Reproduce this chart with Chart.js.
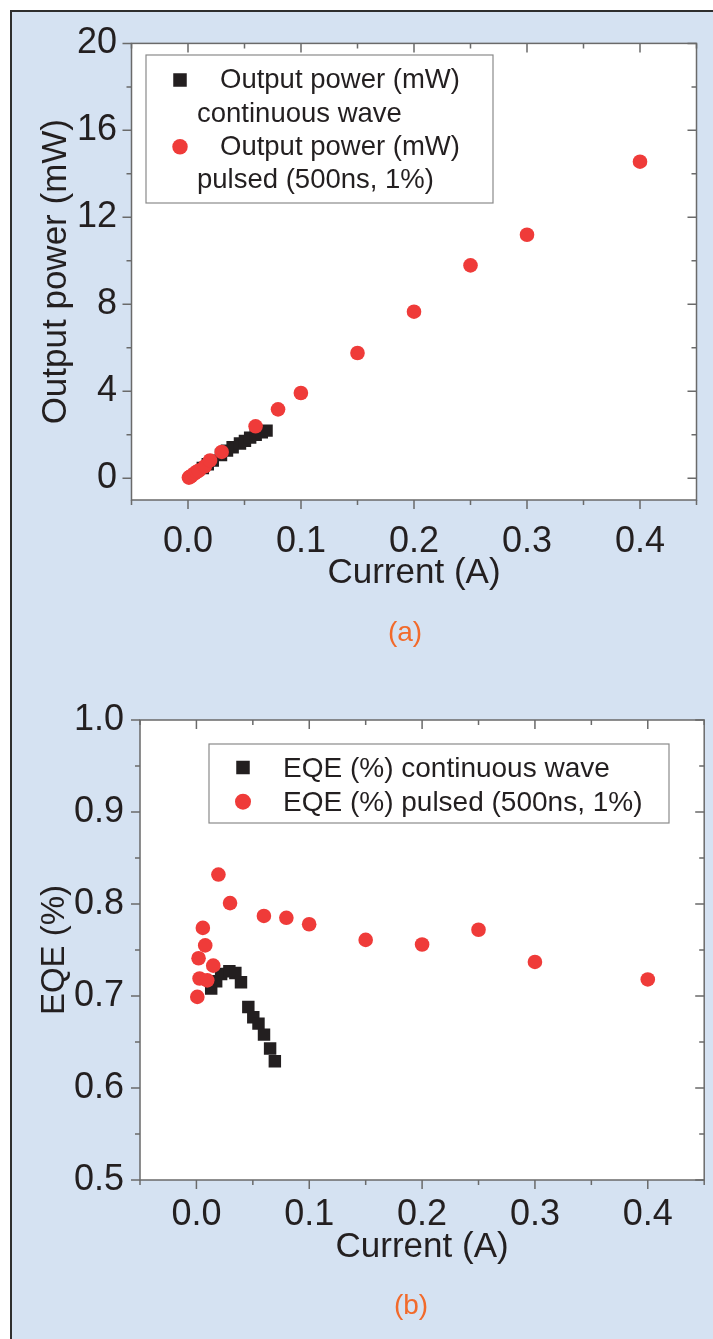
<!DOCTYPE html>
<html>
<head>
<meta charset="utf-8">
<script src="https://cdn.jsdelivr.net/npm/chart.js@4/dist/chart.umd.min.js"></script>
<style>
  html, body { margin:0; padding:0; background:#ffffff; }
  body { width:713px; height:1339px; position:relative; overflow:hidden; font-family:"Liberation Sans", Arial, sans-serif; }
  #frame { position:absolute; left:10px; top:10px; width:730px; height:1360px; background:#d5e2f2; border-left:2px solid #2e2e2e; border-top:2px solid #2e2e2e; }
  canvas { position:absolute; left:0; }
  .panel { position:absolute; color:#f26a2b; font-size:28px; transform:translate(-50%,-50%); white-space:nowrap; }
</style>
</head>
<body>
<div id="frame"></div>
<canvas id="chartA" width="713" height="660" style="top:0"></canvas>
<canvas id="chartB" width="713" height="679" style="top:660px"></canvas>
<div class="panel" style="left:405px; top:632px;">(a)</div>
<div class="panel" style="left:411px; top:1305px;">(b)</div>
<script>
// ---------------- data ----------------
// continuous wave
const cwCurrent = [0.0131, 0.0175, 0.0219, 0.0292, 0.0345, 0.0395, 0.0460, 0.0504, 0.0550, 0.0599, 0.0653, 0.0695];
const cwPower   = [0.47, 0.64, 0.81, 1.07, 1.27, 1.43, 1.60, 1.72, 1.87, 2.00, 2.12, 2.19];
const cwEQE     = [0.708, 0.716, 0.724, 0.727, 0.725, 0.715, 0.688, 0.677, 0.670, 0.658, 0.643, 0.629];
// pulsed (500ns, 1%)
const pulsedCurrent = [0.0008, 0.0019, 0.0028, 0.0057, 0.0078, 0.0096, 0.0149, 0.0195, 0.0298, 0.0598, 0.0797, 0.0999, 0.150, 0.200, 0.250, 0.300, 0.400];
const pulsedPower   = [0.03, 0.07, 0.10, 0.22, 0.30, 0.35, 0.55, 0.82, 1.21, 2.39, 3.17, 3.92, 5.76, 7.66, 9.79, 11.20, 14.56];
const pulsedEQE     = [0.699, 0.741, 0.719, 0.774, 0.755, 0.717, 0.733, 0.832, 0.801, 0.787, 0.785, 0.778, 0.761, 0.756, 0.772, 0.737, 0.718];

// ticks
const xTickValues = [0, 0.1, 0.2, 0.3, 0.4];
const xTickLabels = ['0.0', '0.1', '0.2', '0.3', '0.4'];
const xMinorValues = [-0.05, 0.05, 0.15, 0.25, 0.35, 0.45];
const yTickValuesA = [0, 4, 8, 12, 16, 20];
const yTickLabelsA = ['0', '4', '8', '12', '16', '20'];
const yMinorValuesA = [2, 6, 10, 14, 18];
const yTickValuesB = [0.5, 0.6, 0.7, 0.8, 0.9, 1.0];
const yTickLabelsB = ['0.5', '0.6', '0.7', '0.8', '0.9', '1.0'];
const yMinorValuesB = [0.55, 0.65, 0.75, 0.85, 0.95];

// texts
const xTitle = 'Current (A)';
const yTitleA = 'Output power (mW)';
const yTitleB = 'EQE (%)';
const legendA = [['Output power (mW)', 'continuous wave'], ['Output power (mW)', 'pulsed (500ns, 1%)']];
const legendB = [['EQE (%) continuous wave'], ['EQE (%) pulsed (500ns, 1%)']];

// ---------------- styling ----------------
const FONT = '"Liberation Sans", Arial, Helvetica, sans-serif';
const TXT = '#231f20';
const AXIS = '#6a6a6a';
const BLACK = '#231f20';
const RED = '#ef3b39';
Chart.defaults.font.family = FONT;
Chart.defaults.color = TXT;

const toPts = (xs, ys) => xs.map((v, i) => ({x: v, y: ys[i]}));

const decor = {
  id: 'decor',
  beforeDraw(chart) {
    const {ctx, chartArea: a} = chart;
    ctx.save();
    ctx.fillStyle = '#ffffff';
    ctx.fillRect(a.left, a.top, a.right - a.left, a.bottom - a.top);
    ctx.restore();
  },
  afterDatasetsDraw(chart, args, o) {
    const {ctx, chartArea: a, scales: {x, y}} = chart;
    ctx.save();
    ctx.strokeStyle = AXIS;
    ctx.lineWidth = 1.5;
    ctx.strokeRect(a.left, a.top, a.right - a.left, a.bottom - a.top);
    ctx.beginPath();
    const seg = (x1, y1, x2, y2) => { ctx.moveTo(x1, y1); ctx.lineTo(x2, y2); };
    const xt = (vals, len) => vals.forEach(v => { const p = x.getPixelForValue(v); seg(p, a.bottom, p, a.bottom + len); seg(p, a.top, p, a.top + len); });
    const yt = (vals, len) => vals.forEach(v => { const p = y.getPixelForValue(v); seg(a.left - len, p, a.left, p); seg(a.right, p, a.right - len, p); });
    xt(o.xMajor, 9); xt(o.xMinor, 5);
    yt(o.yMajor, 9); yt(o.yMinor, 5);
    ctx.stroke();

    // legend box
    const L = o.legend;
    const bx = a.left + L.x, by = a.top + L.y;
    ctx.fillStyle = '#ffffff';
    ctx.fillRect(bx, by, L.w, L.h);
    ctx.strokeStyle = '#8a8a8a';
    ctx.lineWidth = 1.2;
    ctx.strokeRect(bx, by, L.w, L.h);
    ctx.font = L.fontSize + 'px ' + FONT;
    ctx.textBaseline = 'alphabetic';
    ctx.textAlign = 'left';
    L.items.forEach((it, k) => {
      const ds = chart.data.datasets[it.ds];
      const sx = a.left + it.sx, sy = a.top + it.sy;
      ctx.fillStyle = ds.backgroundColor;
      if (ds.pointStyle === 'rect') {
        ctx.fillRect(sx - it.size / 2, sy - it.size / 2, it.size, it.size);
      } else {
        ctx.beginPath(); ctx.arc(sx, sy, it.size / 2, 0, Math.PI * 2); ctx.fill();
      }
      ctx.fillStyle = TXT;
      L.texts[k].forEach((t, j) => ctx.fillText(t, a.left + it.lines[j][0], a.top + it.lines[j][1]));
    });
    ctx.restore();
  }
};

function makeScales(yMin, yMax, yVals, yLabels, yTitle, yTitleSize, yWidth, xHeight, xPad, yPad) {
  return {
    x: {
      type: 'linear', min: -0.05, max: 0.45,
      afterBuildTicks: s => { s.ticks = xTickValues.map(v => ({value: v})); },
      afterFit: s => { s.height = xHeight; },
      grid: {display: false, drawTicks: false}, border: {display: false},
      ticks: {font: {size: 36}, color: TXT, padding: xPad, maxRotation: 0, autoSkip: false,
              callback: (v, i) => xTickLabels[i]},
      title: {display: true, text: xTitle, font: {size: 35}, color: TXT, padding: {top: 0, bottom: 0}}
    },
    y: {
      type: 'linear', min: yMin, max: yMax,
      afterBuildTicks: s => { s.ticks = yVals.map(v => ({value: v})); },
      afterFit: s => { s.width = yWidth; },
      grid: {display: false, drawTicks: false}, border: {display: false},
      ticks: {font: {size: 36}, color: TXT, padding: yPad, autoSkip: false,
              callback: (v, i) => yLabels[i]},
      title: {display: true, text: yTitle, font: {size: yTitleSize}, color: TXT, padding: {top: 35, bottom: 0}}
    }
  };
}

const common = {
  responsive: false, animation: false, events: [],
  plugins: {legend: {display: false}, tooltip: {enabled: false}}
};

// ---------------- chart (a) ----------------
new Chart(document.getElementById('chartA'), {
  type: 'scatter',
  data: {
    datasets: [
      {label: legendA[0].join(' '), data: toPts(cwCurrent, cwPower), pointStyle: 'rect', pointRadius: 8.8,
       backgroundColor: BLACK, borderWidth: 0, order: 2},
      {label: legendA[1].join(' '), data: toPts(pulsedCurrent, pulsedPower), pointStyle: 'circle', pointRadius: 7.3,
       backgroundColor: RED, borderWidth: 0, order: 1}
    ]
  },
  options: {
    ...common,
    layout: {padding: {left: 0, right: 16.5, top: 43.4, bottom: 66}},
    scales: makeScales(-1, 20, yTickValuesA, yTickLabelsA, yTitleA, 35, 131.5, 94, 20, 14.5),
    plugins: {
      ...common.plugins,
      decor: {
        xMajor: xTickValues, xMinor: xMinorValues, yMajor: yTickValuesA, yMinor: yMinorValuesA,
        legend: {
          x: 14.5, y: 11.6, w: 347, h: 148, fontSize: 27.5, texts: legendA,
          items: [
            {ds: 0, sx: 48.5, sy: 36.6, size: 13.5, lines: [[88.5, 44.9], [65.5, 78.3]]},
            {ds: 1, sx: 48.5, sy: 103.3, size: 15.5, lines: [[88.5, 111.6], [65.5, 144.6]]}
          ]
        }
      }
    }
  },
  plugins: [decor]
});

// ---------------- chart (b) ----------------
new Chart(document.getElementById('chartB'), {
  type: 'scatter',
  data: {
    datasets: [
      {label: legendB[0][0], data: toPts(cwCurrent, cwEQE), pointStyle: 'rect', pointRadius: 8.8,
       backgroundColor: BLACK, borderWidth: 0, order: 2},
      {label: legendB[1][0], data: toPts(pulsedCurrent, pulsedEQE), pointStyle: 'circle', pointRadius: 7.3,
       backgroundColor: RED, borderWidth: 0, order: 1}
    ]
  },
  options: {
    ...common,
    layout: {padding: {left: 0, right: 5, top: 60, bottom: 70.5}},
    scales: makeScales(0.5, 1.0, yTickValuesB, yTickLabelsB, yTitleB, 33, 140, 88.5, 13, 16),
    plugins: {
      ...common.plugins,
      decor: {
        xMajor: xTickValues, xMinor: xMinorValues, yMajor: yTickValuesB, yMinor: yMinorValuesB,
        legend: {
          x: 69, y: 24, w: 460, h: 79, fontSize: 28, texts: legendB,
          items: [
            {ds: 0, sx: 103, sy: 47.5, size: 13.5, lines: [[143, 56.7]]},
            {ds: 1, sx: 103, sy: 81.7, size: 16, lines: [[143, 91]]}
          ]
        }
      }
    }
  },
  plugins: [decor]
});
</script>
</body>
</html>
